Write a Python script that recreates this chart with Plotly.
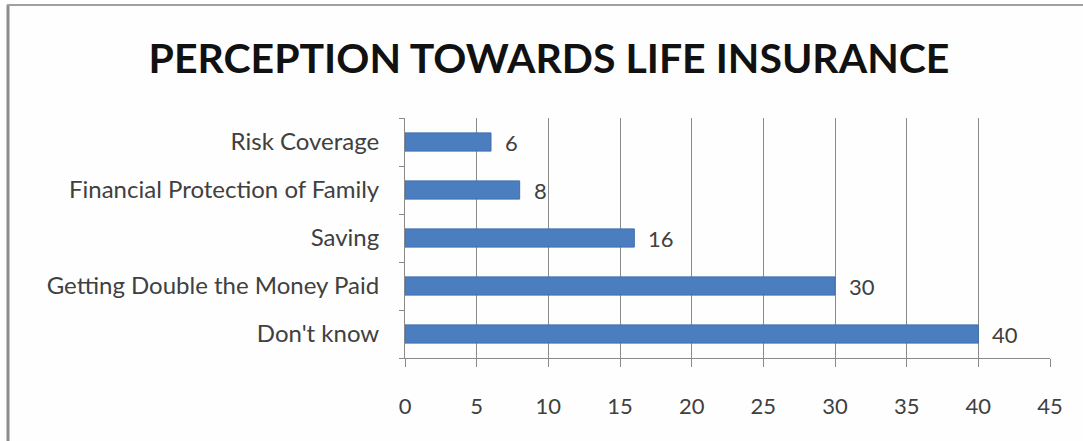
import plotly.graph_objects as go

# Survey responses: perception towards life insurance
categories = [
    "Don't know",
    "Getting Double the Money Paid",
    "Saving",
    "Financial Protection of Family",
    "Risk Coverage",
]
values = [40, 30, 16, 8, 6]
x_ticks = [0, 5, 10, 15, 20, 25, 30, 35, 40, 45]

W, H = 1083, 441
M_L, M_R, M_T, M_B = 405, 33, 118, 83
PLOT_W = W - M_L - M_R
PLOT_H = H - M_T - M_B


def px_x(p):
    return (p - M_L) / PLOT_W


def px_y(p):
    return (H - M_B - p) / PLOT_H


FONT = "Lato, 'Open Sans', sans-serif"
LABEL_COLOR = "#404040"

fig = go.Figure(
    go.Bar(
        x=values,
        y=categories,
        orientation="h",
        width=0.38,
        marker=dict(color="#4a7ebf", line=dict(color="#3f6fae", width=1)),
        hoverinfo="x+y",
    )
)

# value labels placed just past the end of each bar
for c, v in zip(categories, values):
    fig.add_annotation(
        x=v, y=c, text=str(v), showarrow=False,
        xanchor="left", xshift=12,
        font=dict(family=FONT, size=22, color=LABEL_COLOR),
    )

# outer chart frame (left and top edges visible)
fig.add_shape(
    type="line", xref="paper", yref="paper",
    x0=px_x(8), x1=px_x(8), y0=px_y(5), y1=px_y(445),
    line=dict(color="#8c8c8c", width=3),
)
fig.add_shape(
    type="line", xref="paper", yref="paper",
    x0=px_x(7), x1=px_x(1090), y0=px_y(5), y1=px_y(5),
    line=dict(color="#a0a0a0", width=2),
)

fig.update_layout(
    width=W, height=H,
    margin=dict(l=M_L, r=M_R, t=M_T, b=M_B),
    paper_bgcolor="#fefefe",
    plot_bgcolor="#fefefe",
    showlegend=False,
    title=dict(
        text="<b>PERCEPTION TOWARDS LIFE INSURANCE</b>",
        x=549 / W, xref="container", xanchor="center",
        y=1 - 59 / H, yanchor="middle",
        font=dict(family=FONT, size=41, color="#111111"),
    ),
    xaxis=dict(
        range=[0, 45],
        tickvals=x_ticks,
        ticktext=[str(t) for t in x_ticks],
        showgrid=True, gridcolor="#8a8a8a", gridwidth=1,
        zeroline=False,
        showline=True, linecolor="#8a8a8a", linewidth=1,
        ticks="outside", ticklen=8, tickcolor="#8a8a8a",
        ticklabelstandoff=21,
        tickfont=dict(family=FONT, size=22, color=LABEL_COLOR),
        fixedrange=True,
    ),
    yaxis=dict(
        type="category",
        categoryorder="array", categoryarray=categories,
        range=[-0.5, 4.5],
        showgrid=False,
        showline=True, linecolor="#8a8a8a", linewidth=1,
        ticks="outside", ticklen=5, tickcolor="#8a8a8a",
        tickson="boundaries",
        ticklabelstandoff=20,
        tickfont=dict(family=FONT, size=24, color=LABEL_COLOR),
        fixedrange=True,
    ),
)

fig.write_html("out.html")
